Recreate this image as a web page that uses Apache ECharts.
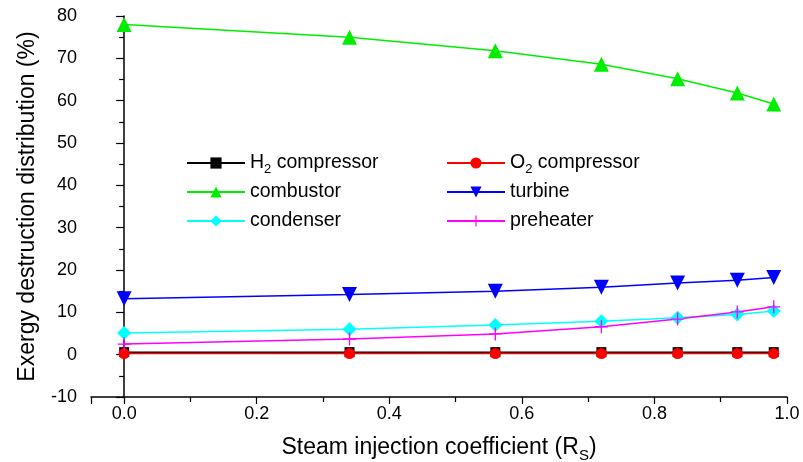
<!DOCTYPE html>
<html>
<head>
<meta charset="utf-8">
<script src="https://cdn.jsdelivr.net/npm/echarts@6/dist/echarts.min.js"></script>
<style>
  html, body { margin: 0; padding: 0; background: #fff; }
  #chart { width: 803px; height: 462px; }
</style>
</head>
<body>
<div id="chart"></div>
<script>
// Steam injection coefficient R_S at each operating point
const rsValues = [0, 0.34, 0.56, 0.72, 0.835, 0.925, 0.98];

// Exergy destruction share of each component (%)
const h2Compressor = [0.6, 0.6, 0.6, 0.6, 0.6, 0.6, 0.6];
const o2Compressor = [0.25, 0.25, 0.25, 0.25, 0.25, 0.25, 0.25];
const combustor = [78.0, 75.0, 71.8, 68.6, 65.2, 61.8, 59.2];
const turbine = [13.2, 14.2, 15.0, 15.9, 16.9, 17.6, 18.2];
const condenser = [5.1, 6.0, 7.0, 7.9, 8.7, 9.5, 10.3];
const preheater = [2.5, 3.7, 4.9, 6.6, 8.4, 10.1, 11.3];

const seriesNames = ['H2 compressor', 'O2 compressor', 'combustor', 'turbine', 'condenser', 'preheater'];
const legendLeft = ['H2 compressor', 'combustor', 'condenser'];
const legendRight = ['O2 compressor', 'turbine', 'preheater'];

const FONT = '"Liberation Sans", Arial, sans-serif';
const plusPath = 'path://M9,0h2v9h9v2h-9v9h-2v-9h-9v-2h9z';

function pairs(ys) { return rsValues.map((x, i) => [x, ys[i]]); }

function lineSeries(name, ys, color, symbol, size, extra) {
  return Object.assign({
    name: name,
    type: 'line',
    data: pairs(ys),
    symbol: symbol,
    symbolSize: size,
    lineStyle: { color: color, width: 1.5 },
    itemStyle: { color: color },
    emphasis: { disabled: true },
    animation: false
  }, extra || {});
}

// every legend row carries a subscript token so all rows share one height
function legendLabel(name) {
  if (name === 'H2 compressor') return '{n|H}{s|2}{n| compressor}';
  if (name === 'O2 compressor') return '{n|O}{s|2}{n| compressor}';
  return '{n|' + name + '}{s| }';
}

const legendText = {
  fontFamily: FONT,
  color: '#000',
  rich: {
    n: { fontSize: 19.5, fontFamily: FONT, color: '#000', lineHeight: 26 },
    s: { fontSize: 13, fontFamily: FONT, color: '#000', lineHeight: 13, verticalAlign: 'bottom' }
  }
};

function makeLegend(items, left) {
  return {
    data: items,
    orient: 'vertical',
    left: left,
    top: 148,
    itemWidth: 58,
    itemHeight: 14,
    itemGap: 6,
    formatter: legendLabel,
    textStyle: legendText,
    selectedMode: false
  };
}

const chart = echarts.init(document.getElementById('chart'), null, { renderer: 'canvas' });

chart.setOption({
  backgroundColor: '#fff',
  animation: false,
  grid: { left: 91, right: 16, top: 16, bottom: 65, containLabel: false, outerBoundsMode: 'none' },
  legend: [makeLegend(legendLeft, 181), makeLegend(legendRight, 441)],
  xAxis: {
    type: 'value',
    min: -0.05,
    max: 1.0,
    splitNumber: 5,
    name: '{n|Steam injection coefficient (R}{s|S}{n|)}',
    nameLocation: 'middle',
    nameGap: 36,
    nameTextStyle: {
      fontSize: 23, fontFamily: FONT, color: '#000',
      rich: {
        n: { fontSize: 23, fontFamily: FONT, color: '#000', lineHeight: 30 },
        s: { fontSize: 15, fontFamily: FONT, color: '#000', lineHeight: 15, verticalAlign: 'bottom' }
      }
    },
    axisLine: { onZero: false, lineStyle: { color: '#000', width: 1.5 } },
    axisTick: { show: true, inside: false, length: 7, lineStyle: { color: '#000', width: 1.2 } },
    minorTick: { show: true, splitNumber: 2, length: 5, lineStyle: { color: '#000', width: 1.2 } },
    axisLabel: {
      fontSize: 18, fontFamily: FONT, color: '#000', margin: 8,
      showMinLabel: false,
      formatter: v => (v < 0 ? '' : v.toFixed(1))
    },
    splitLine: { show: false }
  },
  yAxis: {
    type: 'value',
    min: -10,
    max: 80,
    interval: 10,
    name: 'Exergy destruction distribution (%)',
    nameLocation: 'middle',
    nameGap: 52,
    nameTextStyle: { fontSize: 23, fontFamily: FONT, color: '#000' },
    axisLine: { lineStyle: { color: '#000', width: 1.5 } },
    axisTick: { show: true, inside: false, length: 8, lineStyle: { color: '#000', width: 1.2 } },
    minorTick: { show: true, splitNumber: 2, length: 5, lineStyle: { color: '#000', width: 1.2 } },
    axisLabel: { fontSize: 18, fontFamily: FONT, color: '#000', margin: 14 },
    splitLine: { show: false }
  },
  series: [
    lineSeries(seriesNames[0], h2Compressor, '#000000', 'rect', 10),
    lineSeries(seriesNames[1], o2Compressor, '#ff0000', 'circle', 11),
    lineSeries(seriesNames[2], combustor, '#00ee00', 'triangle', 15),
    lineSeries(seriesNames[3], turbine, '#0000ff', 'triangle', 15, { symbolRotate: 180 }),
    lineSeries(seriesNames[4], condenser, '#00ffff', 'diamond', 14),
    lineSeries(seriesNames[5], preheater, '#ff00ff', plusPath, 13)
  ]
});
</script>
</body>
</html>
